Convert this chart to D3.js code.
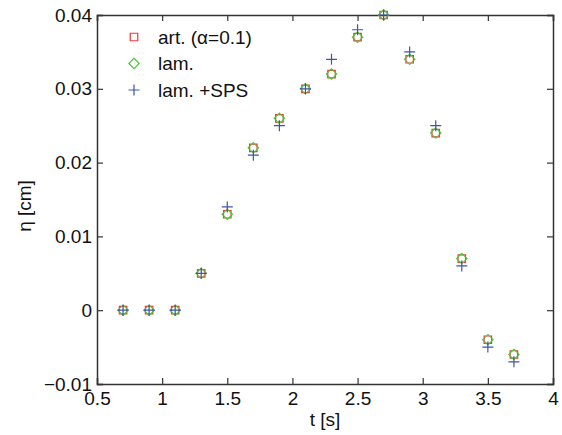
<!DOCTYPE html>
<html>
<head>
<meta charset="utf-8">
<script src="https://cdn.jsdelivr.net/npm/d3@7"></script>
<style>
  body { margin: 0; background: #fff; }
  svg text { font-family: "Liberation Sans", Arial, sans-serif; }
</style>
</head>
<body>
<div id="chart"></div>
<script>
// время измерений
const tVals = [0.7, 0.9, 1.1, 1.3, 1.5, 1.7, 1.9, 2.1, 2.3, 2.5, 2.7, 2.9, 3.1, 3.3, 3.5, 3.7];
const artVals = [0, 0, 0, 0.005, 0.013, 0.022, 0.026, 0.030, 0.032, 0.037, 0.040, 0.034, 0.024, 0.007, -0.004, -0.006];
const lamVals = [0, 0, 0, 0.005, 0.013, 0.022, 0.026, 0.030, 0.032, 0.037, 0.040, 0.034, 0.024, 0.007, -0.004, -0.006];
const spsVals = [0, 0, 0, 0.005, 0.014, 0.021, 0.025, 0.030, 0.034, 0.038, 0.040, 0.035, 0.025, 0.006, -0.005, -0.007];
const xTicks = [0.5, 1, 1.5, 2, 2.5, 3, 3.5, 4];
const yTicks = [-0.01, 0, 0.01, 0.02, 0.03, 0.04];
const legendLabels = ["art. (\u03b1=0.1)", "lam.", "lam. +SPS"];

const width = 562, height = 435;
const margin = {left: 97, right: 9, top: 15, bottom: 51};
const fs = 19;

const svg = d3.select("#chart").append("svg")
    .attr("width", width)
    .attr("height", height);

const x = d3.scaleLinear().domain([0.5, 4]).range([margin.left, width - margin.right]);
const y = d3.scaleLinear().domain([-0.01, 0.04]).range([height - margin.bottom, margin.top]);

const axisColor = "#333";
const fmt = d => d === 0 ? "0" : d3.format("")(+d.toFixed(2)).replace("-", "\u2212");

// оси со всех четырёх сторон, тики внутрь
const gx = svg.append("g").attr("transform", `translate(0,${y(-0.01)})`)
    .call(d3.axisBottom(x).tickValues(xTicks).tickSize(-6).tickPadding(5).tickFormat(d => d));
const gxTop = svg.append("g").attr("transform", `translate(0,${y(0.04)})`)
    .call(d3.axisTop(x).tickValues(xTicks).tickSize(-6).tickFormat(""));
const gy = svg.append("g").attr("transform", `translate(${x(0.5)},0)`)
    .call(d3.axisLeft(y).tickValues(yTicks).tickSize(-6).tickPadding(7).tickFormat(fmt));
const gyRight = svg.append("g").attr("transform", `translate(${x(4)},0)`)
    .call(d3.axisRight(y).tickValues(yTicks).tickSize(-6).tickFormat(""));

[gx, gxTop, gy, gyRight].forEach(g => {
    g.select(".domain").attr("stroke", axisColor).attr("stroke-width", 1.5);
    g.selectAll(".tick line").attr("stroke", axisColor).attr("stroke-width", 1.2);
    g.selectAll("text").attr("font-size", fs).attr("fill", "#111")
        .style("font-family", "'Liberation Sans', Arial, sans-serif");
});
gx.selectAll(".tick text").attr("dy", "0.85em");
gy.selectAll(".tick text").attr("dx", "2px");

// подписи осей
svg.append("text")
    .attr("x", x(2.25)).attr("y", 426)
    .attr("text-anchor", "middle")
    .attr("font-size", fs).attr("fill", "#111")
    .text("t [s]");
svg.append("text")
    .attr("transform", `translate(31,206) rotate(-90)`)
    .attr("text-anchor", "middle")
    .attr("font-size", fs).attr("fill", "#111")
    .text("\u03b7 [cm]");

const red = "#ee3b2f", green = "#4cc43c", blue = "#3d55b0";

const squareSym = d3.symbol().type(d3.symbolSquare).size(56);
const diamondSym = d3.symbol().type(d3.symbolDiamond2).size(70);
const plusPath = s => `M${-s},0H${s}M0,${-s}V${s}`;

const g = svg.append("g");

g.selectAll(".art").data(tVals)
    .enter().append("path")
    .attr("class", "art")
    .attr("transform", (d, i) => `translate(${x(d)},${y(artVals[i])})`)
    .attr("d", squareSym)
    .attr("fill", "none").attr("stroke", red).attr("stroke-width", 1.2);

g.selectAll(".lam").data(tVals)
    .enter().append("path")
    .attr("class", "lam")
    .attr("transform", (d, i) => `translate(${x(d)},${y(lamVals[i])})`)
    .attr("d", diamondSym)
    .attr("fill", "none").attr("stroke", green).attr("stroke-width", 1.1);

g.selectAll(".sps").data(tVals)
    .enter().append("path")
    .attr("class", "sps")
    .attr("transform", (d, i) => `translate(${x(d)},${y(spsVals[i])})`)
    .attr("d", plusPath(5.5))
    .attr("fill", "none").attr("stroke", blue).attr("stroke-width", 1.2);

// легенда
const legend = svg.append("g").attr("transform", "translate(134,37)");
const markers = [
    sel => sel.append("path").attr("d", squareSym).attr("fill", "none").attr("stroke", red).attr("stroke-width", 1.2),
    sel => sel.append("path").attr("d", diamondSym).attr("fill", "none").attr("stroke", green).attr("stroke-width", 1.1),
    sel => sel.append("path").attr("d", plusPath(5.5)).attr("fill", "none").attr("stroke", blue).attr("stroke-width", 1.2)
];
legendLabels.forEach((lbl, i) => {
    const row = legend.append("g").attr("transform", `translate(0,${i * 26.5})`);
    markers[i](row);
    row.append("text")
        .attr("x", 24).attr("y", 0).attr("dy", "0.35em")
        .attr("font-size", fs).attr("fill", "#111")
        .text(lbl);
});
</script>
</body>
</html>
